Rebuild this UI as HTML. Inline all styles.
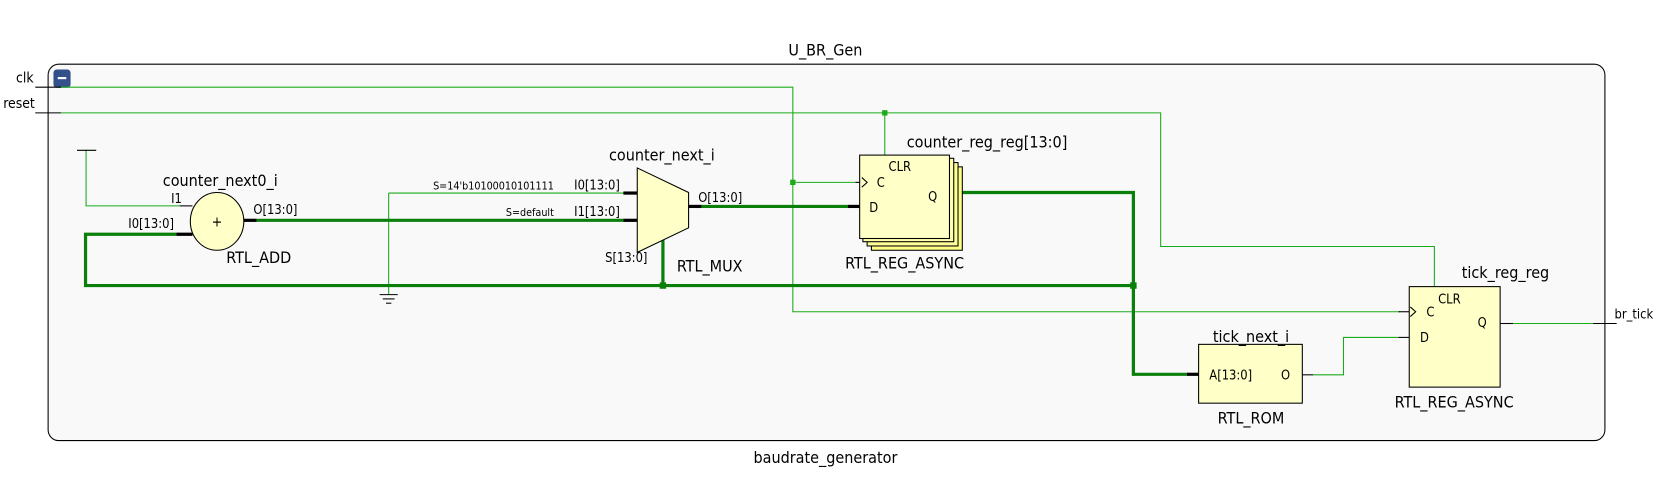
<!DOCTYPE html>
<html><head><style>
html,body{margin:0;padding:0;background:#fff;}
svg{display:block;}
text{font-family:"DejaVu Sans Condensed","Liberation Sans Narrow","Liberation Sans",sans-serif;fill:#000;}
</style></head><body>
<svg width="1668" height="477" viewBox="0 0 1560 446" xmlns="http://www.w3.org/2000/svg">
<rect x="0" y="0" width="1560" height="446" fill="#fff"/>
<text x="772" y="52" font-size="15" text-anchor="middle">U_BR_Gen</text>
<rect x="45" y="60" width="1456" height="352" rx="10" fill="#f9f9f9" stroke="#000" stroke-width="1"/>
<text x="772" y="433" font-size="15" text-anchor="middle">baudrate_generator</text>
<rect x="50" y="65" width="16" height="17" rx="3" fill="#34508a"/>
<rect x="54" y="72" width="8" height="2" fill="#fff"/>
<!-- clk / reset -->
<text x="15" y="77" font-size="13">clk</text>
<text x="3" y="101" font-size="13">reset</text>
<g stroke="#000" stroke-width="1"><line x1="33" y1="81.5" x2="57" y2="81.5"/><line x1="33" y1="105.5" x2="57" y2="105.5"/></g>
<g fill="none" stroke="#1aaa1a" stroke-width="1">
<polyline points="57,81.5 741.5,81.5 741.5,291.5 1310,291.5"/>
<polyline points="741.5,170.5 800,170.5"/>
<polyline points="57,105.5 1085.5,105.5 1085.5,230.5 1341.5,230.5 1341.5,268"/>
<polyline points="827.5,105.5 827.5,145"/>
<polyline points="80.5,140 80.5,192.5 168,192.5"/>
<polyline points="363.5,180.5 583,180.5"/>
<polyline points="363.5,180.5 363.5,275"/>
<polyline points="1228,350.5 1256.5,350.5 1256.5,315.5 1308,315.5"/>
<polyline points="1415,302.5 1490,302.5"/>
</g>
<rect x="739" y="168" width="5" height="5" fill="#1aaa1a"/>
<rect x="825" y="103" width="5" height="5" fill="#1aaa1a"/>
<!-- power / ground -->
<line x1="72" y1="140.5" x2="90" y2="140.5" stroke="#000"/>
<g stroke="#000"><line x1="355" y1="275.5" x2="372" y2="275.5"/><line x1="358" y1="279.5" x2="369" y2="279.5"/><line x1="361" y1="283.5" x2="366" y2="283.5"/></g>
<!-- thick buses -->
<g fill="none" stroke="#0a7f0a" stroke-width="3">
<polyline points="165,219 80,219 80,267 1060,267"/>
<polyline points="240,206 583,206"/>
<polyline points="656,193 793,193"/>
<polyline points="900,180 1060,180 1060,350 1110,350"/>
<polyline points="620,222 620,267"/>
</g>
<rect x="617" y="264" width="6" height="6" fill="#0a7f0a"/>
<rect x="1057" y="264" width="6" height="6" fill="#0a7f0a"/>
<!-- black stubs -->
<g stroke="#000" stroke-width="3">
<line x1="165" y1="219" x2="180" y2="219"/>
<line x1="228" y1="206" x2="240" y2="206"/>
<line x1="583" y1="206" x2="596" y2="206"/>
<line x1="583" y1="180.5" x2="596" y2="180.5"/>
<line x1="644" y1="193" x2="656" y2="193"/>
<line x1="793" y1="193" x2="806" y2="193"/>
<line x1="888" y1="180" x2="900" y2="180"/>
<line x1="1110" y1="350" x2="1122" y2="350"/>
<line x1="620" y1="219" x2="620" y2="224"/>
</g>
<g stroke="#000" stroke-width="1">
<line x1="168" y1="192.5" x2="180" y2="192.5"/>
<line x1="1218" y1="350.5" x2="1228" y2="350.5"/>
<line x1="1308" y1="315.5" x2="1318" y2="315.5"/>
<line x1="1308" y1="291.5" x2="1318" y2="291.5"/>
<line x1="800" y1="170.5" x2="806" y2="170.5"/>
<line x1="1403" y1="302.5" x2="1415" y2="302.5"/>
<line x1="1490" y1="302.5" x2="1512" y2="302.5"/>
</g>
<!-- adder -->
<ellipse cx="203" cy="207" rx="25" ry="27" fill="#ffffc8" stroke="#000"/>
<text x="203" y="212" font-size="13" text-anchor="middle">+</text>
<text x="206" y="174" font-size="15" text-anchor="middle">counter_next0_i</text>
<text x="160" y="190" font-size="12">I1</text>
<text x="120" y="213" font-size="12">I0[13:0]</text>
<text x="237" y="200" font-size="12">O[13:0]</text>
<text x="242" y="246" font-size="15" text-anchor="middle">RTL_ADD</text>
<!-- mux -->
<polygon points="596,157 644,180 644,213 596,236" fill="#ffffc8" stroke="#000"/>
<text x="619" y="150" font-size="15" text-anchor="middle">counter_next_i</text>
<text x="518" y="177" font-size="10" text-anchor="end">S=14'b10100010101111</text>
<text x="518" y="202" font-size="10" text-anchor="end">S=default</text>
<text x="537" y="177" font-size="12">I0[13:0]</text>
<text x="537" y="202" font-size="12">I1[13:0]</text>
<text x="566" y="245" font-size="12">S[13:0]</text>
<text x="653" y="189" font-size="12">O[13:0]</text>
<text x="633" y="254" font-size="15">RTL_MUX</text>
<!-- counter reg stack -->
<rect x="815" y="156" width="85" height="78" fill="#ffff88" stroke="#000"/>
<rect x="811" y="152" width="85" height="78" fill="#ffff99" stroke="#000"/>
<rect x="807" y="148" width="85" height="78" fill="#ffffaa" stroke="#000"/>
<rect x="804" y="145" width="84" height="78" fill="#ffffc8" stroke="#000"/>
<polyline points="806,166 811,170.5 806,175" fill="none" stroke="#000"/>
<text x="831" y="160" font-size="12">CLR</text>
<text x="820" y="175" font-size="12">C</text>
<text x="813" y="198" font-size="12">D</text>
<text x="868" y="188" font-size="12">Q</text>
<text x="848" y="138" font-size="15">counter_reg_reg[13:0]</text>
<text x="846" y="251" font-size="15" text-anchor="middle">RTL_REG_ASYNC</text>
<!-- ROM -->
<rect x="1121" y="322" width="97" height="55" fill="#ffffc8" stroke="#000"/>
<text x="1170" y="320" font-size="15" text-anchor="middle">tick_next_i</text>
<text x="1131" y="355" font-size="12">A[13:0]</text>
<text x="1198" y="355" font-size="12">O</text>
<text x="1170" y="396" font-size="15" text-anchor="middle">RTL_ROM</text>
<!-- tick reg -->
<rect x="1318" y="268" width="85" height="94" fill="#ffffc8" stroke="#000"/>
<polyline points="1319,287 1324,291.5 1319,296" fill="none" stroke="#000"/>
<text x="1345" y="284" font-size="12">CLR</text>
<text x="1334" y="296" font-size="12">C</text>
<text x="1328" y="320" font-size="12">D</text>
<text x="1382" y="306" font-size="12">Q</text>
<text x="1408" y="260" font-size="15" text-anchor="middle">tick_reg_reg</text>
<text x="1360" y="381" font-size="15" text-anchor="middle">RTL_REG_ASYNC</text>
<text x="1510" y="298" font-size="12">br_tick</text>
</svg>
</body></html>
